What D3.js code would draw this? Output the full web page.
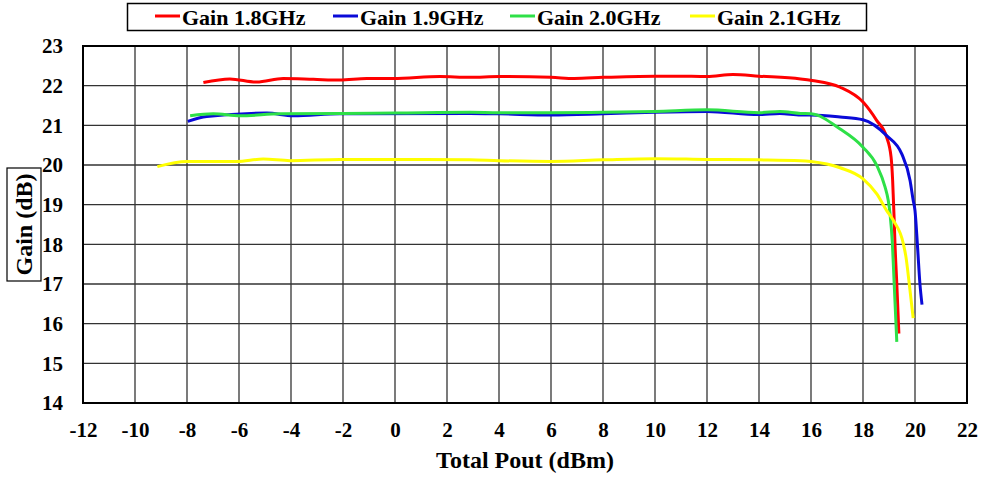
<!DOCTYPE html>
<html>
<head>
<meta charset="utf-8">
<script src="https://cdn.jsdelivr.net/npm/d3@7"></script>
<style>
  html, body { margin: 0; padding: 0; background: #fff; }
  svg { display: block; }
  text { font-family: "Liberation Serif", "Times New Roman", serif; font-weight: bold; fill: #000; }
</style>
</head>
<body>
<svg id="chart" width="981" height="477"></svg>
<script>
// ---- Data ----
const seriesNames = ["Gain 1.8GHz", "Gain 1.9GHz", "Gain 2.0GHz", "Gain 2.1GHz"];
const seriesColors = ["#ff0000", "#0a0ad8", "#2ee047", "#ffff00"];

const pout18 = [-7.37, -6.35, -5.32, -4.3, -3.14, -2.12, -1.09, -0.07, 1.73, 2.88, 4, 6, 6.9, 8, 10, 10.8, 12, 13, 14, 15.6, 16.04, 17.12, 18.01, 18.53, 18.91, 19.08, 19.14, 19.17, 19.2, 19.23, 19.3, 19.38];
const gain18 = [22.08, 22.17, 22.09, 22.18, 22.16, 22.14, 22.18, 22.18, 22.23, 22.21, 22.23, 22.21, 22.18, 22.21, 22.24, 22.24, 22.23, 22.28, 22.24, 22.17, 22.13, 21.96, 21.58, 21.12, 20.7, 20.2, 19.61, 19.11, 18.6, 18.02, 17.0, 15.75];

const pout19 = [-7.97, -7.24, -4.93, -3.91, -2.12, 2.88, 4, 6, 8, 10, 12, 14, 14.8, 15.6, 16, 17.12, 18.0, 18.91, 19.49, 19.81, 19.93, 20.0, 20.09, 20.19, 20.27];
const gain19 = [21.1, 21.22, 21.31, 21.24, 21.29, 21.30, 21.29, 21.26, 21.29, 21.33, 21.35, 21.27, 21.30, 21.26, 21.26, 21.21, 21.14, 20.74, 20.28, 19.61, 19.11, 18.85, 18.02, 17.0, 16.48];

const pout20 = [-7.88, -6.99, -5.96, -4.42, -2, 0, 2.88, 4, 6, 8, 10, 12, 14, 14.8, 15.6, 16, 17.12, 18, 18.53, 18.85, 18.97, 19.04, 19.13, 19.2, 19.3];
const gain20 = [21.24, 21.29, 21.24, 21.29, 21.30, 21.31, 21.33, 21.32, 21.32, 21.33, 21.35, 21.39, 21.32, 21.35, 21.30, 21.29, 20.91, 20.45, 19.99, 19.44, 19.11, 18.77, 18.02, 17.0, 15.54];

const pout21 = [-9.14, -8.01, -6.09, -5.07, -4.04, -2.12, 0.5, 2.88, 4, 6, 8, 10, 12, 14, 15.6, 16, 17.12, 18, 18.53, 18.91, 19.17, 19.55, 19.65, 19.78, 19.93];
const gain21 = [19.96, 20.09, 20.09, 20.15, 20.11, 20.14, 20.14, 20.13, 20.11, 20.09, 20.13, 20.16, 20.14, 20.13, 20.11, 20.09, 19.93, 19.65, 19.27, 18.85, 18.6, 18.02, 17.69, 17.0, 16.14];

const xTicks = [-12, -10, -8, -6, -4, -2, 0, 2, 4, 6, 8, 10, 12, 14, 16, 18, 20, 22];
const yTicks = [14, 15, 16, 17, 18, 19, 20, 21, 22, 23];
const xTitle = "Total Pout (dBm)";
const yTitle = "Gain (dB)";

const seriesX = [pout18, pout19, pout20, pout21];
const seriesY = [gain18, gain19, gain20, gain21];

// ---- Layout ----
const plot = { left: 83, right: 967, top: 46, bottom: 403 };
const svg = d3.select("#chart");

const x = d3.scaleLinear().domain([-12, 22]).range([plot.left, plot.right]);
const y = d3.scaleLinear().domain([14, 23]).range([plot.bottom, plot.top]);

// Gridlines
const grid = svg.append("g").attr("class", "grid");
grid.selectAll("line.v").data(xTicks.slice(1, -1)).join("line")
  .attr("x1", d => x(d)).attr("x2", d => x(d))
  .attr("y1", plot.top).attr("y2", plot.bottom)
  .attr("stroke", "#333").attr("stroke-width", 1.3);
grid.selectAll("line.h").data(yTicks.slice(1, -1)).join("line")
  .attr("x1", plot.left).attr("x2", plot.right)
  .attr("y1", d => y(d)).attr("y2", d => y(d))
  .attr("stroke", "#333").attr("stroke-width", 1.3);

// Series lines
const line = d3.line().x(d => x(d[0])).y(d => y(d[1])).curve(d3.curveMonotoneX);
const seriesData = seriesNames.map((n, i) => ({
  name: n, color: seriesColors[i],
  pts: seriesX[i].map((v, j) => [v, seriesY[i][j]])
}));
svg.append("g").selectAll("path").data(seriesData).join("path")
  .attr("d", d => line(d.pts))
  .attr("fill", "none")
  .attr("stroke", d => d.color)
  .attr("stroke-width", 3)
  .attr("stroke-linejoin", "round")
  .attr("stroke-linecap", "butt");

// Plot border
svg.append("rect")
  .attr("x", plot.left).attr("y", plot.top)
  .attr("width", plot.right - plot.left).attr("height", plot.bottom - plot.top)
  .attr("fill", "none").attr("stroke", "#000").attr("stroke-width", 2);

// Axes
const fmt = d => String(d);
const xAxis = svg.append("g").attr("transform", `translate(0,${plot.bottom})`)
  .call(d3.axisBottom(x).tickValues(xTicks).tickSize(0).tickFormat(fmt));
xAxis.select(".domain").remove();
xAxis.selectAll("text").attr("y", 34).attr("dy", null)
  .style("font-size", "21px").style("font-family", "'Liberation Serif', serif").style("font-weight", "bold");

const yAxis = svg.append("g").attr("transform", `translate(${plot.left},0)`)
  .call(d3.axisLeft(y).tickValues(yTicks).tickSize(0).tickPadding(20).tickFormat(fmt));
yAxis.select(".domain").remove();
yAxis.selectAll("text")
  .style("font-size", "21px").style("font-family", "'Liberation Serif', serif").style("font-weight", "bold");

// Axis titles
svg.append("text")
  .attr("x", (plot.left + plot.right) / 2).attr("y", 468)
  .attr("text-anchor", "middle").style("font-size", "24px")
  .text(xTitle);

const yt = svg.append("g").attr("transform", `translate(24,${(plot.top + plot.bottom) / 2}) rotate(-90)`);
yt.append("rect").attr("x", -56.5).attr("y", -17).attr("width", 113).attr("height", 34)
  .attr("fill", "#fff").attr("stroke", "#000").attr("stroke-width", 1.2);
yt.append("text").attr("x", 0).attr("y", 8).attr("text-anchor", "middle")
  .style("font-size", "24px").text(yTitle);

// Legend
const legend = svg.append("g");
legend.append("rect").attr("x", 127.5).attr("y", 3.5).attr("width", 739).attr("height", 27)
  .attr("fill", "#fff").attr("stroke", "#000").attr("stroke-width", 1.5);
const legendStarts = [155, 333, 510, 690];
const items = legend.selectAll("g.item").data(seriesData).join("g")
  .attr("transform", (d, i) => `translate(${legendStarts[i]},16)`);
items.append("line").attr("x1", 0).attr("x2", 25).attr("y1", 0).attr("y2", 0)
  .attr("stroke", d => d.color).attr("stroke-width", 3);
items.append("text").attr("x", 27).attr("y", 9)
  .style("font-size", "22px").text(d => d.name);
</script>
</body>
</html>
